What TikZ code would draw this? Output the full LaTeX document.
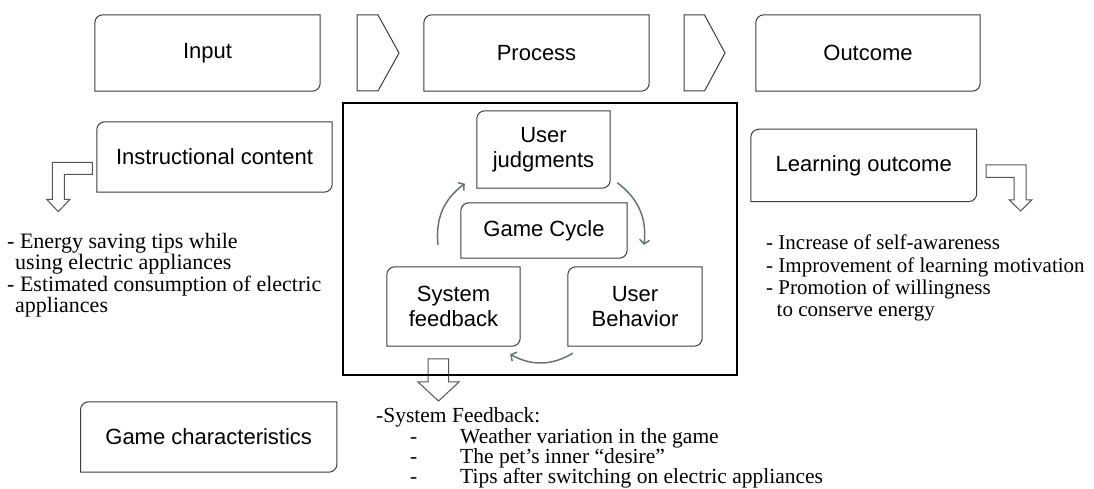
\documentclass[tikz,border=0pt]{standalone}
\usepackage{fontspec}
\setmainfont{Liberation Serif}
\setsansfont{Liberation Sans}
\usepackage{tikz}
\usetikzlibrary{arrows.meta}

\definecolor{edgegray}{RGB}{60,60,60}
\definecolor{cyclegray}{RGB}{105,115,115}
\definecolor{arrowgray}{RGB}{85,85,85}

\tikzset{
  card/.style={rectangle, inner sep=0pt, align=center, text=black,
    font=\sffamily\fontsize{22}{25.5}\selectfont},
  cardline/.style={draw=edgegray, line width=1pt},
  item/.style={anchor=base west, inner sep=0pt, text=black,
    font=\fontsize{21}{22}\selectfont},
  bigitem/.style={item, font=\fontsize{22}{23}\selectfont},
  sfitem/.style={item, font=\fontsize{21.5}{22}\selectfont},
  blockarrow/.style={draw=arrowgray, fill=white, line width=1pt},
  cycle/.style={draw=cyclegray, line width=1.5pt, -{Straight Barb[length=4pt,width=10pt]}}
}

% card outline: round top-left and bottom-right corners
\newcommand{\drawcard}[1]{%
  \draw[cardline] (#1.south west) -- ([yshift=-8pt]#1.north west)
    arc[start angle=180,end angle=90,radius=8pt] -- (#1.north east)
    -- ([yshift=8pt]#1.south east)
    arc[start angle=0,end angle=-90,radius=8pt] -- cycle;}

\begin{document}
\begin{tikzpicture}[x=1pt,y=1pt]
\useasboundingbox (0,0) rectangle (1094,489);

% to write the three stages
\node [card, minimum width=225pt, minimum height=76pt] (input) at (207.5,436) {Input};
\node [card, minimum width=225pt, minimum height=76pt] (process) at (536.5,436) {Process};
\node [card, minimum width=224pt, minimum height=76pt] (outcome) at (868,436) {Outcome};
\drawcard{input}
\drawcard{process}
\drawcard{outcome}

% to draw the chevrons between stages
\draw [cardline] (357,474) -- (378,474) -- (399,436) -- (378,398) -- (357,398) -- cycle;
\draw [cardline] (684,474) -- (704.5,474) -- (725,436) -- (704.5,398) -- (684,398) -- cycle;

% Input side:
\node [card, minimum width=235pt, minimum height=70pt] (content) at (214.5,332) {Instructional content};
\drawcard{content}
\draw [blockarrow] (92.3,326.7) -- (52.3,326.7) -- (52.3,289.7) -- (46.7,289.7) -- (58.3,277.3)
  -- (70,289.7) -- (64.3,289.7) -- (64.3,314.7) -- (92.3,314.7) -- cycle;
\node [bigitem] (tip1) at (7,240.7) {- Energy saving tips while};
\node [bigitem] (tip2) at (15,219) {using electric appliances};
\node [bigitem] (tip3) at (7,197.3) {- Estimated consumption of electric};
\node [bigitem] (tip4) at (15,176.6) {appliances};

\node [card, minimum width=256pt, minimum height=70pt] (gamechar) at (208.7,52) {Game characteristics};
\drawcard{gamechar}

% Process side: the game cycle
\draw [blockarrow] (428,130) -- (428,107) -- (418,107) -- (438.5,88) -- (459,107) -- (448.5,107)
  -- (448.5,130) -- cycle;
\node [draw, line width=2.6pt, minimum width=394pt, minimum height=272pt, inner sep=0pt] (frame) at (540,250) {};

\node [card, minimum width=133pt, minimum height=77pt] (judge) at (543.5,339.5) {User\\judgments};
\node [card, minimum width=166pt, minimum height=55pt] (gamecycle) at (544,258.5) {Game Cycle};
\node [card, minimum width=133pt, minimum height=79pt] (feedback) at (453.5,182.5) {System\\feedback};
\node [card, minimum width=134pt, minimum height=79pt] (behave) at (635,182.5) {User\\Behavior};
\drawcard{judge}
\drawcard{gamecycle}
\drawcard{feedback}
\drawcard{behave}

% to draw the cycle arrows
\draw [cycle] ([shift={(-15.5,22)}]feedback.north) to[bend left=30] ([shift={(-12,4.5)}]judge.south west);
\draw [cycle] ([shift={(7,5.5)}]judge.south east) to[bend left=30] ([shift={(9,22)}]behave.north);
\draw [cycle] ([shift={(5,-7)}]behave.south west) to[bend left=30] ([shift={(-10,-8)}]feedback.south east);

\node [sfitem] (sf) at (376,66.3) {-System Feedback:};
\node [sfitem] (sfd1) at (410,45.7) {-};
\node [sfitem] (sf1) at (460,45.7) {Weather variation in the game};
\node [sfitem] (sfd2) at (410,25.7) {-};
\node [sfitem] (sf2) at (460,25.7) {The pet's inner ``desire''};
\node [sfitem] (sfd3) at (410,5.7) {-};
\node [sfitem] (sf3) at (460,5.7) {Tips after switching on electric appliances};

% Outcome side:
\node [card, minimum width=225.5pt, minimum height=72pt] (learning) at (863.75,323.6) {Learning outcome};
\drawcard{learning}
\draw [blockarrow] (986,324) -- (1026,324) -- (1026,289) -- (1031.7,289) -- (1020.5,278) -- (1009.3,289)
  -- (1014,289) -- (1014,311.7) -- (986,311.7) -- cycle;
\node [item] (res1) at (766,239) {- Increase of self-awareness};
\node [item] (res2) at (766,216.3) {- Improvement of learning motivation};
\node [item] (res3) at (766,194) {- Promotion of willingness};
\node [item] (res4) at (776.5,172.3) {to conserve energy};
\end{tikzpicture}
\end{document}
